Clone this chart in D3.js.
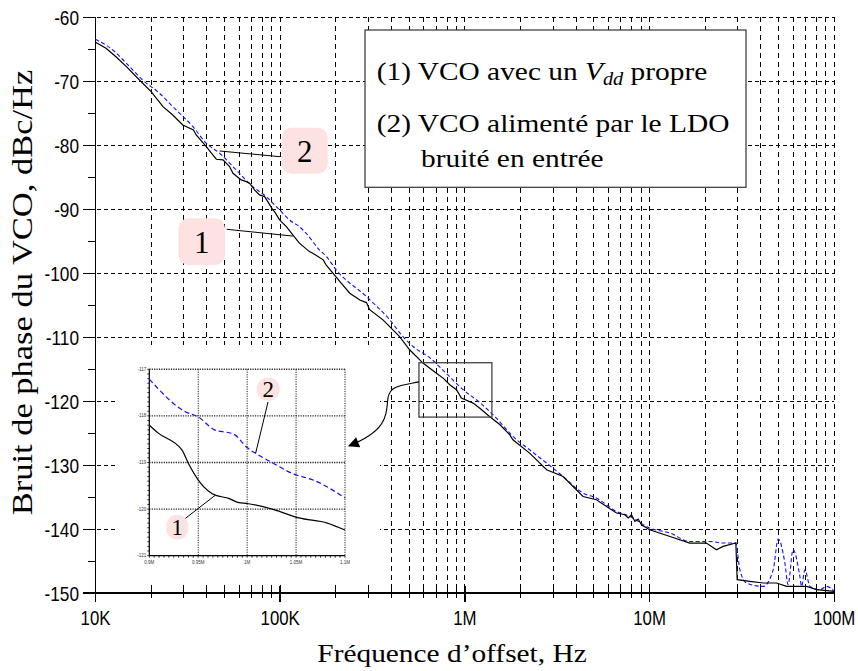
<!DOCTYPE html>
<html><head><meta charset="utf-8">
<script src="https://cdn.jsdelivr.net/npm/d3@7"></script>
<style>body{margin:0;background:#fff}svg{display:block}</style>
</head><body>
<svg id="c" width="858" height="671"></svg>
<script>
// ---- data ----
const blackFreq = [10000,11400,12900,14700,17300,20000,23200,26200,29700,33900,35100,39800,42400,45100,49000,53200,55500,61500,65500,68300,72600,77300,82300,85700,91200,93200,99300,108000,117000,127000,144000,150000,171000,178000,193000,210000,238000,270000,293000,305000,360000,443000,502000,593000,701000,762000,828000,900000,957000,1107000,1200000,1360000,1550000,1750000,1820000,2240000,2770000,3400000,4360000,5150000,6620000,7350000,7660000,7980000,8320000,8670000,9040000,10000000,12900000,16500000,20300000,23000000,25000000,29300000,29800000,34900000,41200000,48700000,55100000,70800000,80200000,100000000];
const blackDb = [-63.9,-64.84,-66.16,-67.72,-69.8,-71.63,-73.97,-75.27,-76.83,-77.61,-78.39,-80.22,-81.25,-82.19,-82.3,-83.34,-84.38,-85.42,-85.69,-85.94,-86.98,-87.77,-88.03,-88.81,-90.11,-90.38,-91.67,-92.72,-94.02,-95.31,-96.63,-96.88,-97.92,-98.8,-100.0,-101.3,-103.13,-104.2,-104.6,-105.7,-107.3,-109.91,-111.98,-114.06,-115.63,-116.41,-117.45,-118.23,-119.53,-120.31,-121.09,-122.41,-123.7,-125.27,-126.05,-128.13,-130.73,-131.78,-134.91,-135.42,-137.5,-137.77,-138.28,-137.77,-138.81,-138.44,-139.33,-140.11,-141.16,-142.19,-142.19,-143.23,-142.72,-142.19,-147.92,-148.19,-148.44,-148.44,-148.97,-148.97,-149.48,-149.75];
const blueFreq = [10000,12400,14700,18000,22200,26200,33700,39800,47000,57800,71100,77300,84100,91200,99300,112000,127000,138000,163000,178000,201000,293000,392000,462000,524000,644000,794000,977000,1200000,1480000,1820000,2240000,2770000,3400000,4360000,5150000,6620000,7820000,10000000,12900000,16500000,21200000,25000000,29300000,30800000,33500000,41200000,46700000,49700000,54000000,56200000,59800000,65100000,66500000,69300000,73800000,83600000,90800000,100000000];
const blueDb = [-63.44,-65.11,-67.19,-69.8,-71.88,-73.97,-77.09,-79.69,-81.25,-83.86,-86.47,-87.25,-88.03,-89.06,-90.11,-91.67,-92.72,-93.75,-96.36,-97.41,-99.48,-103.66,-107.3,-109.91,-111.47,-113.2,-115.7,-118.2,-120.2,-122.66,-125.53,-127.61,-129.69,-131.78,-134.38,-135.16,-137.25,-138.03,-139.84,-140.63,-141.94,-141.94,-142.19,-142.19,-146.36,-148.44,-148.97,-146.36,-141.56,-145.31,-148.7,-143.23,-147.41,-148.97,-146.36,-148.97,-149.48,-148.97,-149.75];
const xTickValues = [1e4,1e5,1e6,1e7,1e8];
const xTickLabels = ["10K","100K","1M","10M","100M"];
const yTickValues = [-60,-70,-80,-90,-100,-110,-120,-130,-140,-150];
const yMinorValues = [-65,-75,-85,-95,-105,-115,-125,-135,-145];
// inset (zoom) data, MHz / dBc/Hz
const insetBlueMHz = [0.9,0.9367,0.95,0.9666,0.9862,1.0,1.01,1.0236,1.0478,1.068,1.1];
const insetBlueDb = [-117.21,-117.91,-118.02,-118.3,-118.39,-118.68,-118.82,-118.98,-119.25,-119.38,-119.76];
const insetBlackMHz = [0.9,0.9092,0.9333,0.94,0.952,0.9674,0.9726,0.981,0.9914,1.0,1.0273,1.053,1.082,1.1];
const insetBlackDb = [-118.2,-118.37,-118.73,-119.02,-119.43,-119.7,-119.73,-119.77,-119.86,-119.88,-120.01,-120.19,-120.3,-120.45];
const insetXTicks = [0.9,0.95,1.0,1.05,1.1];
const insetXLabels = ["0.9M","0.95M","1M","1.05M","1.1M"];
const insetYTicks = [-117,-118,-119,-120,-121];
const zoomBoxFreq = [564000,1400000];
const zoomBoxDb = [-114,-122.5];
const legendLine2 = "(2) VCO alimenté par le LDO";
const legendLine3 = "bruité en entrée";
const xTitle = "Fréquence d’offset, Hz";
const yTitle = "Bruit de phase du VCO, dBc/Hz";

// ---- drawing ----
const svg = d3.select("#c");
const L = 95.5, R = 834.3, T = 17.3, B = 593;
const x = d3.scaleLog().domain([1e4,1e8]).range([L,R]);
const y = d3.scaleLinear().domain([-150,-60]).range([B,T]);
const serif = "'Liberation Serif','Times New Roman',serif";
const sans = "'Liberation Sans',Arial,sans-serif";

// vertical grid (all 1..9 x decade)
const vGrid = [];
for (let e = 4; e <= 8; e++) for (let m = 1; m <= 9; m++) { const v = m*Math.pow(10,e); if (v <= 1e8 && v > 1e4) vGrid.push(v); }
svg.append("g").attr("shape-rendering","crispEdges").selectAll("line").data(vGrid).join("line")
  .attr("x1", d=>x(d)).attr("x2", d=>x(d)).attr("y1", T).attr("y2", B)
  .attr("stroke","#000").attr("stroke-width",1).attr("stroke-dasharray","5,4");
// horizontal grid
svg.append("g").attr("shape-rendering","crispEdges").selectAll("line").data(yTickValues.filter(d=>d>-150)).join("line")
  .attr("x1", 83).attr("x2", R).attr("y1", d=>y(d)).attr("y2", d=>y(d))
  .attr("stroke","#000").attr("stroke-width",1).attr("stroke-dasharray","4,3");

// left axis
const ax = svg.append("g").attr("shape-rendering","crispEdges");
ax.append("line").attr("x1",L).attr("x2",L).attr("y1",T).attr("y2",B).attr("stroke","#000").attr("stroke-width",1.5);
ax.append("g").selectAll("line").data(yTickValues).join("line")
  .attr("x1",83).attr("x2",L).attr("y1",d=>y(d)).attr("y2",d=>y(d)).attr("stroke","#000").attr("stroke-width",1);
ax.append("g").selectAll("line").data(yMinorValues).join("line")
  .attr("x1",88).attr("x2",L).attr("y1",d=>y(d)).attr("y2",d=>y(d)).attr("stroke","#000").attr("stroke-width",1);
svg.append("g").selectAll("text").data(yTickValues).join("text")
  .attr("transform", d=>`translate(79,${y(d)}) scale(0.82,1)`)
  .attr("text-anchor","end").attr("dy","0.36em")
  .attr("font-family",sans).attr("font-size",21).attr("fill","#000").text(d=>d);

// bottom axis
ax.append("line").attr("x1",83).attr("x2",R).attr("y1",B).attr("y2",B).attr("stroke","#000").attr("stroke-width",1.5);
ax.append("g").selectAll("line").data(vGrid.filter(d=>xTickValues.indexOf(d)<0)).join("line")
  .attr("x1",d=>x(d)).attr("x2",d=>x(d)).attr("y1",B-5).attr("y2",B+5).attr("stroke","#000").attr("stroke-width",1);
ax.append("g").selectAll("line").data(xTickValues).join("line")
  .attr("x1",d=>x(d)).attr("x2",d=>x(d)).attr("y1",B-7).attr("y2",B+9).attr("stroke","#000").attr("stroke-width",1.5);
svg.append("g").selectAll("text").data(xTickValues).join("text")
  .attr("transform", d=>`translate(${x(d)},625) scale(0.8,1)`)
  .attr("text-anchor","middle")
  .attr("font-family",sans).attr("font-size",21).attr("fill","#000").text((d,i)=>xTickLabels[i]);

// curves
const blackData = blackFreq.map((f,i)=>[f,blackDb[i]]);
const blueData = blueFreq.map((f,i)=>[f,blueDb[i]]);
svg.append("path").datum(blueData).attr("d", d3.line().x(d=>x(d[0])).y(d=>y(d[1])).curve(d3.curveMonotoneX))
  .attr("fill","none").attr("stroke","#1010ff").attr("stroke-width",1.1).attr("stroke-dasharray","4,2.5");
svg.append("path").datum(blackData).attr("d", d3.line().x(d=>x(d[0])).y(d=>y(d[1])))
  .attr("fill","none").attr("stroke","#000").attr("stroke-width",1.2);

// zoom box
svg.append("rect").attr("x",x(zoomBoxFreq[0])).attr("y",y(zoomBoxDb[0]))
  .attr("width",x(zoomBoxFreq[1])-x(zoomBoxFreq[0])).attr("height",y(zoomBoxDb[1])-y(zoomBoxDb[0]))
  .attr("fill","none").attr("stroke","#444").attr("stroke-width",1.3);

// inset background
svg.append("rect").attr("x",115).attr("y",345).attr("width",265).attr("height",240).attr("fill","#fff");

// arrow
const defs = svg.append("defs");
defs.append("marker").attr("id","ah").attr("viewBox","0 0 10 10").attr("refX",9).attr("refY",5)
  .attr("markerWidth",17).attr("markerHeight",11).attr("markerUnits","userSpaceOnUse").attr("orient","auto")
  .append("path").attr("d","M0,0 L10,5 L0,10 z").attr("fill","#000");
const ax0 = x(zoomBoxFreq[0]), ay0 = y(-117);
svg.append("path")
  .attr("d",`M${ax0},${ay0} C${ax0-20},${ay0+4} ${ax0-29},${ay0+4} ${ax0-31},${ay0+16} C${ax0-33},${ay0+32} ${ax0-30},${ay0+48} ${ax0-70},${ay0+64}`)
  .attr("fill","none").attr("stroke","#000").attr("stroke-width",1.1).attr("marker-end","url(#ah)");

// inset chart
const ix = d3.scaleLinear().domain([0.9,1.1]).range([149.3,345]);
const iy = d3.scaleLinear().domain([-121,-117]).range([555.7,369.3]);
const ig = svg.append("g");
ig.selectAll("line.vg").data(insetXTicks.slice(1)).join("line").attr("class","vg")
  .attr("x1",d=>ix(d)).attr("x2",d=>ix(d)).attr("y1",iy(-117)).attr("y2",iy(-121))
  .attr("stroke","#222").attr("stroke-width",1).attr("stroke-dasharray","1.2,1.2");
ig.selectAll("line.hg").data(insetYTicks.slice(0,4)).join("line").attr("class","hg")
  .attr("x1",ix(0.9)).attr("x2",ix(1.1)).attr("y1",d=>iy(d)).attr("y2",d=>iy(d))
  .attr("stroke","#222").attr("stroke-width",1.4).attr("stroke-dasharray","1.2,1.2");
ig.append("line").attr("x1",ix(0.9)).attr("x2",ix(0.9)).attr("y1",iy(-117)).attr("y2",iy(-121)).attr("stroke","#000").attr("stroke-width",1.2);
ig.append("line").attr("x1",ix(0.9)).attr("x2",ix(1.1)).attr("y1",iy(-121)).attr("y2",iy(-121)).attr("stroke","#000").attr("stroke-width",1.2);
ig.selectAll("line.ytk").data(iy.ticks(40)).join("line").attr("class","ytk")
  .attr("x1",ix(0.9)-2).attr("x2",ix(0.9)).attr("y1",d=>iy(d)).attr("y2",d=>iy(d)).attr("stroke","#000").attr("stroke-width",0.8);
ig.selectAll("line.xtk").data(ix.ticks(40)).join("line").attr("class","xtk")
  .attr("x1",d=>ix(d)).attr("x2",d=>ix(d)).attr("y1",iy(-121)).attr("y2",iy(-121)+2).attr("stroke","#000").attr("stroke-width",0.8);
ig.selectAll("text.yl").data(insetYTicks).join("text").attr("class","yl")
  .attr("x",ix(0.9)-3).attr("y",d=>iy(d)).attr("dy","0.35em").attr("text-anchor","end")
  .attr("font-family",sans).attr("font-size",4.5).attr("fill","#333").text(d=>d);
ig.selectAll("text.xl").data(insetXTicks).join("text").attr("class","xl")
  .attr("x",d=>ix(d)).attr("y",iy(-121)+8).attr("text-anchor","middle")
  .attr("font-family",sans).attr("font-size",4.5).attr("fill","#333").text((d,i)=>insetXLabels[i]);
ig.append("path").datum(insetBlueMHz.map((f,i)=>[f,insetBlueDb[i]]))
  .attr("d",d3.line().x(d=>ix(d[0])).y(d=>iy(d[1])).curve(d3.curveMonotoneX))
  .attr("fill","none").attr("stroke","#1010ff").attr("stroke-width",1.2).attr("stroke-dasharray","5,3");
ig.append("path").datum(insetBlackMHz.map((f,i)=>[f,insetBlackDb[i]]))
  .attr("d",d3.line().x(d=>ix(d[0])).y(d=>iy(d[1])).curve(d3.curveMonotoneX))
  .attr("fill","none").attr("stroke","#000").attr("stroke-width",1.2);

// callouts
function callout(cx, cy, w, h, rx, label, fs, px, py, lx, ly) {
  svg.append("line").attr("x1",lx).attr("y1",ly).attr("x2",px).attr("y2",py).attr("stroke","#000").attr("stroke-width",1);
  svg.append("rect").attr("x",cx-w/2).attr("y",cy-h/2).attr("width",w).attr("height",h).attr("rx",rx)
    .attr("fill","#fde2e2");
  svg.append("text").attr("x",cx).attr("y",cy).attr("dy","0.35em").attr("text-anchor","middle")
    .attr("font-family",serif).attr("font-size",fs).attr("fill","#000").text(label);
}
callout(304.7,150.8,46,46,10,"2",31, x(47000), y(-80.9), 280, 156.7);
callout(201.7,241.7,46.7,46.7,10,"1",31, x(117000), y(-94.2), 226.7, 229.3);
callout(268.3,389.3,23,23,11,"2",23, ix(1.0087), iy(-118.8), 268, 402);
callout(177.3,527.3,22,25,11,"1",23, ix(0.967), iy(-119.71), 183.3, 520);

// legend
svg.append("rect").attr("x",365).attr("y",30).attr("width",381).attr("height",157.3)
  .attr("fill","#fff").attr("stroke","#333").attr("stroke-width",1.2);
const l1 = svg.append("text").attr("transform","translate(376.7,80) scale(1.13,1)")
  .attr("font-family",serif).attr("font-size",26).attr("fill","#000");
l1.append("tspan").text("(1) VCO avec un ");
l1.append("tspan").attr("font-style","italic").text("V");
l1.append("tspan").attr("font-style","italic").attr("font-size",18).attr("dy",5).text("dd");
l1.append("tspan").attr("dy",-5).text(" propre");
svg.append("text").attr("transform","translate(376.7,131.5) scale(1.13,1)")
  .attr("font-family",serif).attr("font-size",26).attr("fill","#000").text(legendLine2);
svg.append("text").attr("transform","translate(421,167) scale(1.13,1)")
  .attr("font-family",serif).attr("font-size",26).attr("fill","#000").text(legendLine3);

// axis titles
svg.append("text").attr("transform","translate(452,662) scale(1.13,1)").attr("text-anchor","middle")
  .attr("font-family",serif).attr("font-size",26).attr("fill","#000").text(xTitle);
svg.append("text").attr("transform","translate(32,292.5) rotate(-90) scale(1.15,1)").attr("text-anchor","middle")
  .attr("font-family",serif).attr("font-size",30).attr("fill","#000").text(yTitle);
</script>
</body></html>
